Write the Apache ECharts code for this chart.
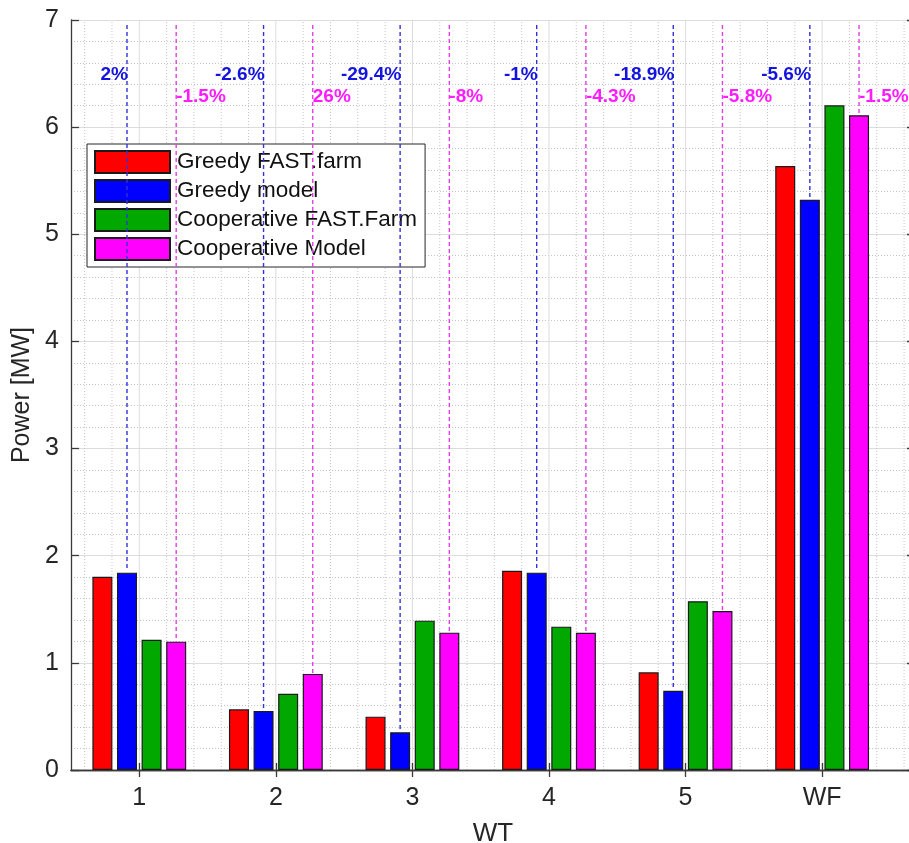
<!DOCTYPE html>
<html>
<head>
<meta charset="utf-8">
<script src="https://cdn.jsdelivr.net/npm/echarts@6/dist/echarts.min.js"></script>
<style>
  html, body { margin: 0; padding: 0; background: #fff; }
  #chart { width: 909px; height: 843px; }
</style>
</head>
<body>
<div id="chart"></div>
<script>
// Wind turbines on the x axis, plus the whole wind farm (WF)
const categories = ['1', '2', '3', '4', '5', 'WF'];

// Power per turbine [MW]
const greedyFastFarm = [1.804, 0.566, 0.498, 1.860, 0.912, 5.637];
const greedyModel    = [1.842, 0.551, 0.352, 1.842, 0.740, 5.322];
const coopFastFarm   = [1.216, 0.712, 1.394, 1.338, 1.575, 6.204];
const coopModel      = [1.198, 0.897, 1.282, 1.280, 1.484, 6.111];

// Relative deviation of each model from FAST.Farm
const greedyDiff = ['2%', '-2.6%', '-29.4%', '-1%', '-18.9%', '-5.6%'];
const coopDiff   = ['-1.5%', '26%', '-8%', '-4.3%', '-5.8%', '-1.5%'];

const yTicks = [0, 1, 2, 3, 4, 5, 6, 7];

const FONT = '"Liberation Sans", Arial, Helvetica, sans-serif';
const BAR_W = 20;
const BAR_GAP_PX = 4.6;
const SLOT = BAR_W + BAR_GAP_PX;
const X_MIN = 0.5, X_MAX = 6.68;
const Y_MIN = yTicks[0], Y_MAX = yTicks[yTicks.length - 1];

const catPos = categories.map((c, i) => i + 1);
const toPairs = arr => arr.map((v, i) => [catPos[i], v]);

// vertical grid lines: major at each category, minor every 0.2
const vGrid = [];
for (let k = 3; k * 0.2 < X_MAX; k++) {
  const x = +(k * 0.2).toFixed(2);
  vGrid.push([x, Math.abs(x - Math.round(x)) < 1e-6 ? 1 : 0]);
}

const annotations = categories.map((c, i) =>
  [catPos[i], greedyModel[i], coopModel[i], greedyDiff[i], coopDiff[i]]);

const barStyle = color => ({
  color: color,
  borderColor: '#1a1a1a',
  borderWidth: 1.2
});

const chart = echarts.init(document.getElementById('chart'), null, { renderer: 'canvas' });

chart.setOption({
  animation: false,
  backgroundColor: '#fff',
  textStyle: { fontFamily: FONT },
  grid: { left: 71, top: 20, right: -6, bottom: 73, outerBoundsMode: 'none', containLabel: false },
  legend: {
    orient: 'vertical',
    left: 87,
    top: 144,
    itemWidth: 75,
    itemHeight: 22,
    itemGap: 5,
    padding: [6, 8, 6, 7],
    backgroundColor: '#fff',
    borderColor: '#262626',
    borderWidth: 1,
    icon: 'rect',
    textStyle: { fontSize: 22.5, lineHeight: 22, color: '#111', fontFamily: FONT, padding: [0, 0, 0, 2] },
    data: ['Greedy FAST.farm', 'Greedy model', 'Cooperative FAST.Farm', 'Cooperative Model']
  },
  xAxis: [
    {
      type: 'value',
      min: X_MIN,
      max: X_MAX,
      name: 'WT',
      nameLocation: 'middle',
      nameGap: 51,
      nameTextStyle: { fontSize: 26, color: '#262626', fontFamily: FONT },
      axisLine: { show: true, lineStyle: { color: '#3a3a3a', width: 1.3 } },
      axisTick: { show: true, inside: true, length: 7, customValues: catPos,
                  lineStyle: { color: '#3a3a3a', width: 1.3 } },
      axisLabel: {
        customValues: catPos,
        margin: 16,
        fontSize: 25,
        color: '#262626',
        fontFamily: FONT,
        formatter: v => categories[Math.round(v) - 1] || ''
      },
      splitLine: { show: false }
    },
    {
      type: 'value',
      position: 'top',
      min: X_MIN,
      max: X_MAX,
      axisLine: { show: true, lineStyle: { color: '#3a3a3a', width: 1.3 } },
      axisTick: { show: true, inside: true, length: 7, customValues: catPos,
                  lineStyle: { color: '#3a3a3a', width: 1.3 } },
      axisLabel: { show: false },
      splitLine: { show: false }
    }
  ],
  yAxis: [
    {
      type: 'value',
      min: Y_MIN,
      max: Y_MAX,
      interval: 1,
      name: 'Power [MW]',
      nameLocation: 'middle',
      nameGap: 26,
      nameTextStyle: { fontSize: 25, color: '#262626', fontFamily: FONT },
      axisLine: { show: true, lineStyle: { color: '#3a3a3a', width: 1.3 } },
      axisTick: { show: true, inside: true, length: 8, lineStyle: { color: '#3a3a3a', width: 1.3 } },
      axisLabel: { margin: 12, fontSize: 25, color: '#262626', fontFamily: FONT },
      splitLine: { show: true, lineStyle: { color: '#dcdcdc', width: 1 } },
      minorTick: { show: false, splitNumber: 5 },
      minorSplitLine: { show: true, lineStyle: { color: '#c4c4c4', width: 1, type: [1, 2] } }
    },
    {
      type: 'value',
      position: 'right',
      min: Y_MIN,
      max: Y_MAX,
      interval: 1,
      axisLine: { show: true, lineStyle: { color: '#3a3a3a', width: 1.3 } },
      axisTick: { show: true, inside: true, length: 8, lineStyle: { color: '#3a3a3a', width: 1.3 } },
      axisLabel: { show: false },
      splitLine: { show: false }
    }
  ],
  series: [
    {
      // vertical grid lines
      type: 'custom',
      silent: true,
      z: 0,
      data: vGrid,
      renderItem: (params, api) => {
        const x = api.value(0);
        const major = api.value(1) === 1;
        const p0 = api.coord([x, Y_MIN]);
        const p1 = api.coord([x, Y_MAX]);
        return {
          type: 'line',
          shape: { x1: p0[0], y1: p0[1], x2: p1[0], y2: p1[1] },
          style: major
            ? { stroke: '#dcdcdc', lineWidth: 1 }
            : { stroke: '#c4c4c4', lineWidth: 1, lineDash: [1, 2] }
        };
      }
    },
    { name: 'Greedy FAST.farm', type: 'bar', data: toPairs(greedyFastFarm),
      barWidth: BAR_W, barGap: (BAR_GAP_PX / BAR_W * 100) + '%', itemStyle: barStyle('#ff0000'), z: 3 },
    { name: 'Greedy model', type: 'bar', data: toPairs(greedyModel),
      barWidth: BAR_W, barGap: (BAR_GAP_PX / BAR_W * 100) + '%', itemStyle: barStyle('#0000ff'), z: 3 },
    { name: 'Cooperative FAST.Farm', type: 'bar', data: toPairs(coopFastFarm),
      barWidth: BAR_W, barGap: (BAR_GAP_PX / BAR_W * 100) + '%', itemStyle: barStyle('#00a800'), z: 3 },
    { name: 'Cooperative Model', type: 'bar', data: toPairs(coopModel),
      barWidth: BAR_W, barGap: (BAR_GAP_PX / BAR_W * 100) + '%', itemStyle: barStyle('#ff00ff'), z: 3 },
    {
      // dashed guides above the model bars with the deviation labels
      type: 'custom',
      silent: true,
      z: 4,
      data: annotations,
      renderItem: (params, api) => {
        const c = api.value(0);
        const base = api.coord([c, Y_MIN]);
        const top = api.coord([c, Y_MAX])[1];
        const xb = base[0] + (1 - 1.5) * SLOT;
        const xm = base[0] + (3 - 1.5) * SLOT;
        const yb = api.coord([c, api.value(1)])[1];
        const ym = api.coord([c, api.value(2)])[1];
        return {
          type: 'group',
          children: [
            { type: 'line', shape: { x1: xb, y1: top + 5, x2: xb, y2: yb - 2 },
              style: { stroke: '#3232d8', lineWidth: 1.4, lineDash: [4, 3] } },
            { type: 'line', shape: { x1: xm, y1: top + 5, x2: xm, y2: ym },
              style: { stroke: '#e43ce4', lineWidth: 1.4, lineDash: [4, 3] } },
            { type: 'text', x: xb + 1, y: top + 55,
              style: { text: api.value(3), fill: '#1414e0', fontSize: 19, fontWeight: 'bold',
                       fontFamily: FONT, align: 'right', verticalAlign: 'middle' } },
            { type: 'text', x: xm, y: top + 77,
              style: { text: api.value(4), fill: '#ff1cff', fontSize: 19, fontWeight: 'bold',
                       fontFamily: FONT, align: 'left', verticalAlign: 'middle' } }
          ]
        };
      }
    }
  ]
});
</script>
</body>
</html>
